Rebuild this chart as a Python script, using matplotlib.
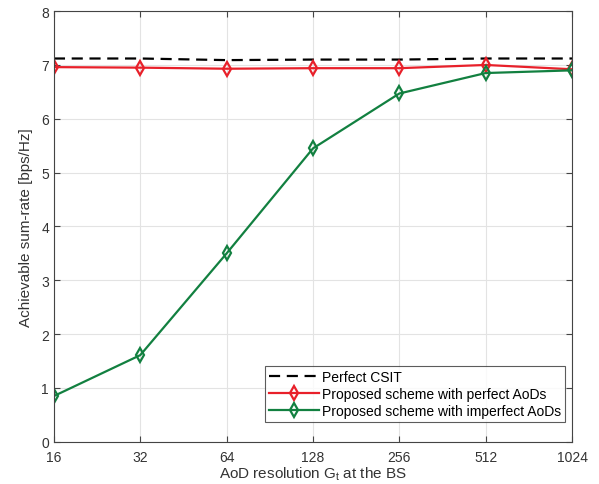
import matplotlib
matplotlib.use("Agg")
import matplotlib.pyplot as plt
from matplotlib.ticker import FixedLocator, FixedFormatter, NullLocator

plt.rcParams['font.family'] = ['Liberation Sans', 'DejaVu Sans']
plt.rcParams['mathtext.fontset'] = 'custom'
plt.rcParams['mathtext.rm'] = 'Liberation Sans'
plt.rcParams['mathtext.it'] = 'Liberation Sans'

G = [16, 32, 64, 128, 256, 512, 1024]
tick_labels = ['16', '32', '64', '128', '256', '512', '1024']
perfect_csit = [7.12, 7.12, 7.09, 7.10, 7.10, 7.12, 7.12]
perfect_aod = [6.96, 6.95, 6.93, 6.94, 6.94, 7.00, 6.92]
imperfect_aod = [0.85, 1.61, 3.50, 5.45, 6.47, 6.85, 6.90]

fig = plt.figure(figsize=(5.99, 4.85), dpi=100)
ax = fig.add_axes([0.090, 0.087, 0.865, 0.888])

red = '#e8202a'
green = '#128040'
ax.plot(G, perfect_csit, color='black', linestyle=(0, (5, 3)), linewidth=1.6, label='Perfect CSIT')
ax.plot(G, perfect_aod, color=red, linewidth=1.6, marker='d', markersize=7,
        markerfacecolor='none', markeredgewidth=1.6, label='Proposed scheme with perfect AoDs')
ax.plot(G, imperfect_aod, color=green, linewidth=1.6, marker='d', markersize=7,
        markerfacecolor='none', markeredgewidth=1.6, label='Proposed scheme with imperfect AoDs')

ax.set_xscale('log', base=2)
ax.set_xlim(16, 1024)
ax.xaxis.set_major_locator(FixedLocator(G))
ax.xaxis.set_major_formatter(FixedFormatter(tick_labels))
ax.xaxis.set_minor_locator(NullLocator())
ax.set_ylim(0, 8)
ax.set_yticks(range(0, 9))

ax.grid(True, color='#e3e3e3', linewidth=0.8)
ax.set_axisbelow(True)
for s in ax.spines.values():
    s.set_color('#444444')
    s.set_linewidth(0.8)
ax.tick_params(direction='in', length=4, colors='#444444', labelsize=10, labelcolor='#333333', top=True, right=True)
ax.tick_params(axis='x', pad=6)

ax.set_xlabel('AoD resolution G$_t$ at the BS', fontsize=11, color='#333333', labelpad=0)
ax.set_ylabel('Achievable sum-rate [bps/Hz]', fontsize=11, color='#333333', labelpad=6)

leg = ax.legend(loc='lower right', bbox_to_anchor=(0.9865, 0.046), borderaxespad=0,
                fontsize=10, frameon=True, fancybox=False, edgecolor='#333333',
                handlelength=3.6, borderpad=0.3, labelspacing=0.2, handletextpad=0.2)
leg.get_frame().set_linewidth(0.8)

fig.savefig('out.png', dpi=100)
